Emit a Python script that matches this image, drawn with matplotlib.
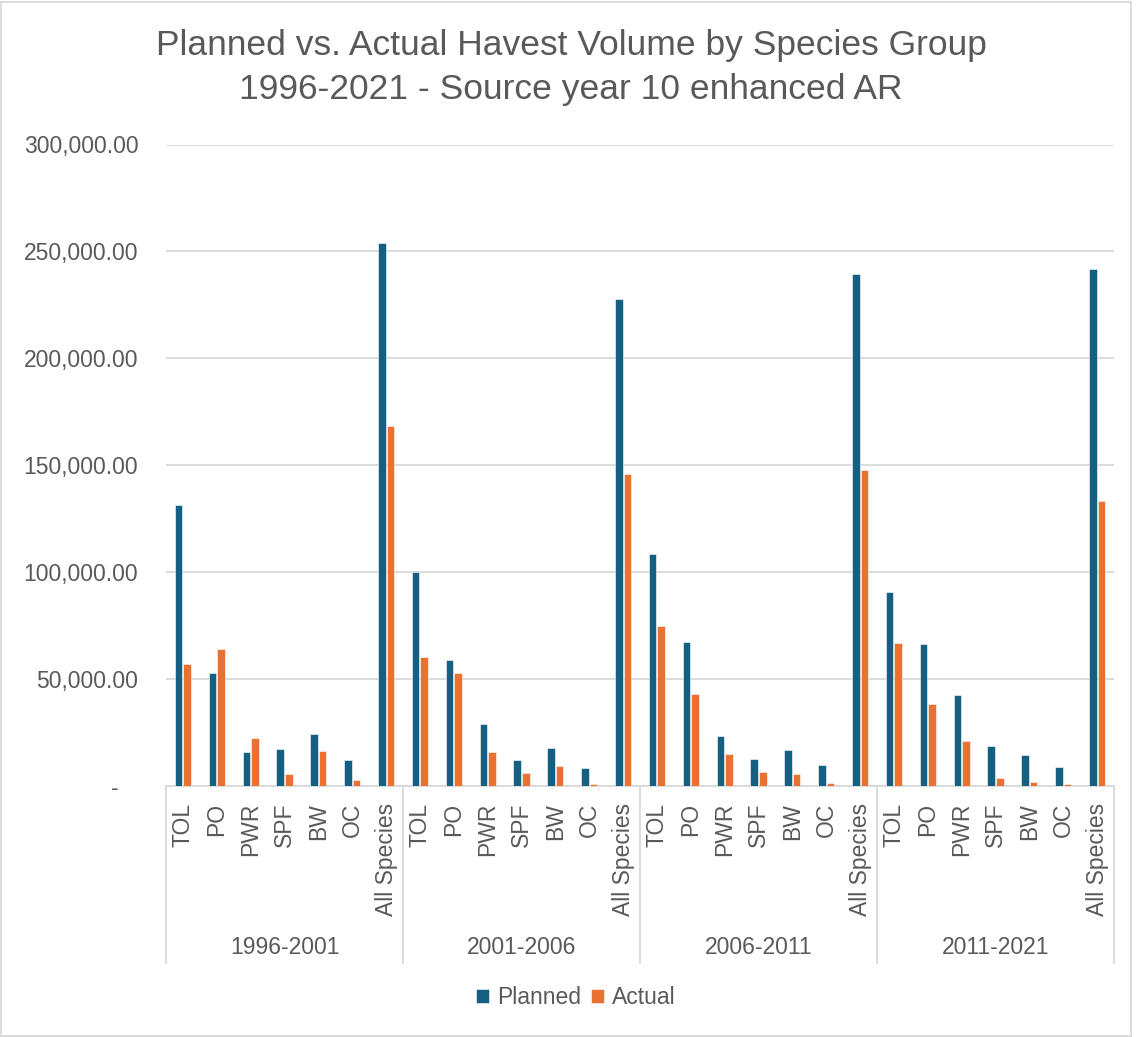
import matplotlib
matplotlib.use("Agg")
import matplotlib.pyplot as plt
import numpy as np
from matplotlib.patches import Rectangle
from matplotlib.lines import Line2D
from matplotlib.ticker import FuncFormatter

plt.rcParams["font.family"] = ["Liberation Sans", "DejaVu Sans"]

# data
periods = ["1996-2001", "2001-2006", "2006-2011", "2011-2021"]
species = ["TOL", "PO", "PWR", "SPF", "BW", "OC", "All Species"]

planned = [
    [131400, 52900, 16000, 17100, 24300, 12000, 254100],
    [100100, 59100, 28900, 12300, 17900, 8300, 227600],
    [108500, 67400, 23200, 12800, 16700, 9700, 239300],
    [90700, 66400, 42400, 18500, 14600, 8900, 242000],
]
actual = [
    [57100, 64100, 22300, 5500, 16200, 2700, 168500],
    [60200, 52700, 15800, 6100, 9500, 800, 145900],
    [75000, 43200, 15000, 6400, 5700, 1400, 147800],
    [66900, 38200, 21000, 3700, 2000, 900, 133500],
]

title_lines = ["Planned vs. Actual Havest Volume by Species Group",
               "1996-2021 - Source year 10 enhanced AR"]

BLUE = "#156082"
ORANGE = "#E97132"
GRID = "#d9d9d9"
TEXT = "#595959"
FS = 16.5

W, H = 1144, 1037
fig = plt.figure(figsize=(W / 100, H / 100), dpi=100)


def px(x0, y0, x1, y1):
    # pixel box (top-left origin) -> figure fraction rect
    return [x0 / W, 1 - y1 / H, (x1 - x0) / W, (y1 - y0) / H]


ax = fig.add_axes(px(166, 144.5, 1114, 786))

planned_flat = np.array(planned).ravel()
actual_flat = np.array(actual).ravel()
n = len(planned_flat)
centers = np.arange(n) + 0.5
bw = 0.225
off = 0.128

ax.bar(centers - off, planned_flat, width=bw, color=BLUE, edgecolor="white", linewidth=0.4, label="Planned", zorder=3)
ax.bar(centers + off, actual_flat, width=bw, color=ORANGE, edgecolor="white", linewidth=0.4, label="Actual", zorder=3)

ax.set_xlim(0, n)
ax.set_ylim(0, 300000)
ax.set_yticks(np.arange(0, 300001, 50000))
ax.yaxis.set_major_formatter(FuncFormatter(lambda v, p: "-   " if v == 0 else f"{v:,.2f}"))
ax.grid(axis="y", color=GRID, linewidth=1.3, zorder=0)
for s in ["top", "right", "left"]:
    ax.spines[s].set_visible(False)
ax.spines["bottom"].set_color(GRID)
ax.spines["bottom"].set_linewidth(1.3)
ax.tick_params(axis="y", length=0, pad=20, labelsize=FS, labelcolor=TEXT)

ax.set_xticks(centers)
ax.set_xticklabels(species * len(periods), rotation=90)
ax.tick_params(axis="x", length=0, pad=12, labelsize=FS, labelcolor=TEXT)

# group labels and separators under the axis
ah = 786 - 144.5
for i, per in enumerate(periods):
    xmid = (i * len(species) + len(species) / 2) / n
    ax.text(xmid, -(947 - 786) / ah, per, transform=ax.transAxes,
            ha="center", va="center", fontsize=FS, color=TEXT)
for k in range(len(periods) + 1):
    xb = k / len(periods)
    ax.add_line(Line2D([xb, xb], [0, -(963 - 786) / ah], transform=ax.transAxes,
                       color=GRID, linewidth=1.3, clip_on=False))

fig.text(571 / W, 1 - 45 / H, title_lines[0], ha="center", va="center", fontsize=25.5, color=TEXT)
fig.text(571 / W, 1 - 90 / H, title_lines[1], ha="center", va="center", fontsize=25.5, color=TEXT)

fig.legend(loc="center", bbox_to_anchor=(576 / W, 1 - 998 / H), ncol=2, frameon=False,
           fontsize=FS, labelcolor=TEXT, handlelength=0.55, handleheight=0.55,
           handletextpad=0.35, columnspacing=0.45)

fig.add_artist(Rectangle((0.001, 0.001), 0.988, 0.997, transform=fig.transFigure,
                         fill=False, edgecolor=GRID, linewidth=1.3))

fig.savefig("out.png", dpi=100)
